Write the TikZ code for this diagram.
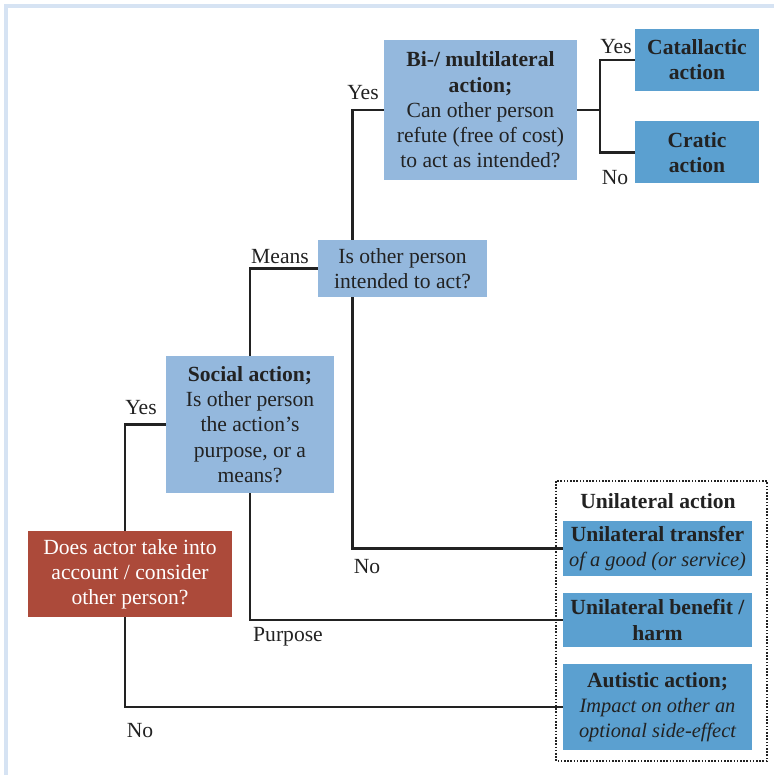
\documentclass[tikz,border=0pt]{standalone}
\usepackage{fontspec}
\setmainfont{Liberation Serif}
\usetikzlibrary{calc}
\definecolor{boxlight}{RGB}{148,184,221}
\definecolor{boxdark}{RGB}{91,160,208}
\definecolor{boxred}{RGB}{172,74,58}
\definecolor{inkgray}{RGB}{34,34,34}
\definecolor{framecol}{RGB}{214,227,243}
\newcommand{\sidenote}[1]{{\fontsize{10.2}{12.6}\selectfont\itshape #1}}

\begin{document}
\begin{tikzpicture}[x=0.5pt, y=-0.5pt,
		every node/.style={font=\fontsize{10.8}{12.6}\selectfont, text=inkgray},
		qbox/.style={fill=boxlight, align=center, inner sep=0pt},
		abox/.style={fill=boxdark, align=center, inner sep=0pt},
		lbl/.style={inner sep=0pt},
		wire/.style={line width=1.2pt, draw=inkgray}]
		%%%%% START %%%%%
		
		\useasboundingbox (0,0) rectangle (774,775);
		\draw[framecol, line width=2pt] (6,775) -- (6,6) -- (774,6);
		
		% question boxes
		\node[qbox, fill=boxred, text=white, minimum width=102pt, minimum height=43pt] (consider) at (130,574) {Does actor take into\\account / consider\\other person?};
		\node[qbox, minimum width=84pt, minimum height=68.5pt] (social) at (250,424.5) {\textbf{Social action;}\\Is other person\\the action’s\\purpose, or a\\means?};
		\node[qbox, minimum width=84.5pt, minimum height=28.5pt] (intended) at (402.5,268.5) {Is other person\\intended to act?};
		\node[qbox, minimum width=96.5pt, minimum height=70pt] (bilateral) at (480.5,110) {\textbf{Bi-/ multilateral}\\\textbf{action;}\\Can other person\\refute (free of cost)\\to act as intended?};
		
		% outcome boxes
		\node[abox, minimum width=62pt, minimum height=31pt] (catallactic) at (697,60) {\textbf{Catallactic}\\\textbf{action}};
		\node[abox, minimum width=62pt, minimum height=31pt] (cratic) at (697,152.5) {\textbf{Cratic}\\\textbf{action}};
		
		\draw[inkgray, line width=0.8pt, dash pattern=on 0.8pt off 0.8pt] (556,481) rectangle (767,761);
		\node[lbl, font=\fontsize{10.8}{12.6}\selectfont\bfseries] (unilateral) at (658,501) {Unilateral action};
		\node[abox, minimum width=94.5pt, minimum height=27.5pt] (transfer) at (657.5,548.5) {\textbf{Unilateral transfer}\\\sidenote{of a good (or service)}};
		\node[abox, minimum width=94.5pt, minimum height=27pt] (benefit) at (657.5,620) {\textbf{Unilateral benefit /}\\\textbf{harm}};
		\node[abox, minimum width=94.5pt, minimum height=43pt] (autistic) at (657.5,707) {\textbf{Autistic action;}\\\sidenote{Impact on other an}\\\sidenote{optional side-effect}};
		
		% connectors
		\draw[wire] ([xshift=-2.5pt]consider.north) |- (social.west);
		\draw[wire] ([xshift=-2.5pt]consider.south) |- (autistic.west);
		\draw[wire] (social.north) |- (intended.west);
		\draw[wire] (social.south) |- (benefit.west);
		\draw[wire] ([xshift=-25pt]intended.north) |- (bilateral.west);
		\draw[wire] ([xshift=-25pt]intended.south) |- (transfer.west);
		\coordinate (split) at (600,110);
		\draw[wire] (bilateral.east) -- (split);
		\draw[wire] (split) |- (catallactic.west);
		\draw[wire] (split) |- (cratic.west);
		
		% branch labels
		\node[lbl] (yessocial) at (141,408) {Yes};
		\node[lbl] (nosocial) at (140,731) {No};
		\node[lbl] (means) at (280,257) {Means};
		\node[lbl] (purpose) at (288,637) {Purpose};
		\node[lbl] (yesbi) at (363,93) {Yes};
		\node[lbl] (nobi) at (367,567) {No};
		\node[lbl] (yescat) at (616,47) {Yes};
		\node[lbl] (nocrat) at (615,178) {No};
		
		%%%%% END %%%%%
	\end{tikzpicture}
\end{document}
